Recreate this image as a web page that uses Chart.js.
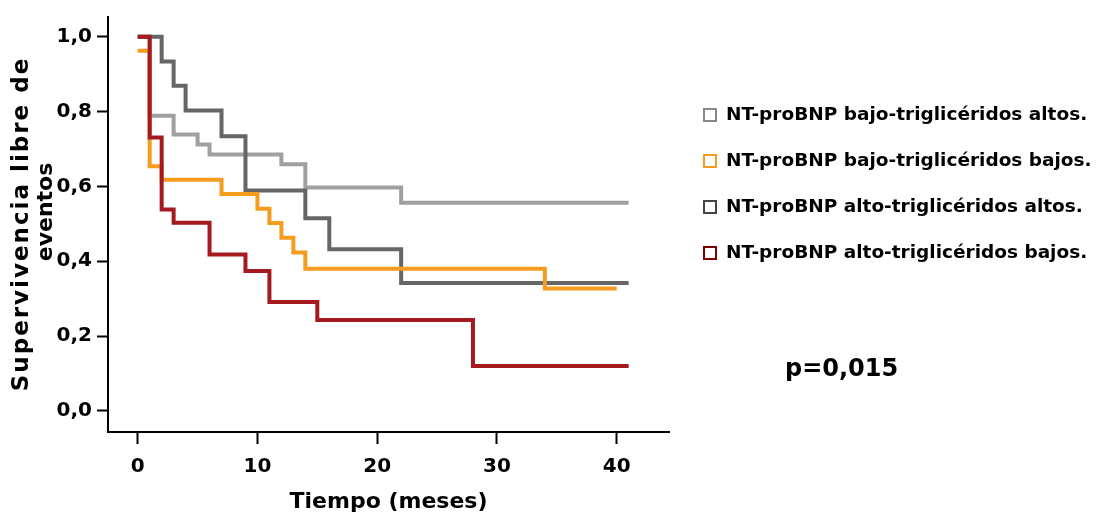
<!DOCTYPE html>
<html>
<head>
<meta charset="utf-8">
<script src="https://cdn.jsdelivr.net/npm/chart.js@4.4.1/dist/chart.umd.min.js"></script>
<style>
  html, body { margin: 0; padding: 0; background: #fff; }
  #wrap { width: 1101px; height: 519px; }
</style>
</head>
<body>
<div id="wrap"><canvas id="km"></canvas></div>
<script>
// Curvas de Kaplan-Meier: tiempos (meses) y supervivencia libre de eventos
const labels = [
  'NT-proBNP bajo-triglicéridos altos.',
  'NT-proBNP bajo-triglicéridos bajos.',
  'NT-proBNP alto-triglicéridos altos.',
  'NT-proBNP alto-triglicéridos bajos.'
];

const tBajoAltos = [0, 1, 3, 5, 6, 12, 14, 22, 41];
const sBajoAltos = [1.0, 0.789, 0.739, 0.712, 0.685, 0.659, 0.597, 0.556, 0.556];

const tBajoBajos = [0, 1, 2, 7, 10, 11, 12, 13, 14, 34, 40];
const sBajoBajos = [0.963, 0.654, 0.618, 0.58, 0.54, 0.502, 0.463, 0.423, 0.38, 0.327, 0.327];

const tAltoAltos = [0, 2, 3, 4, 7, 9, 14, 16, 22, 41];
const sAltoAltos = [1.0, 0.934, 0.869, 0.803, 0.734, 0.589, 0.515, 0.432, 0.342, 0.342];

const tAltoBajos = [0, 1, 2, 3, 6, 9, 11, 15, 28, 41];
const sAltoBajos = [1.0, 0.731, 0.538, 0.503, 0.418, 0.374, 0.291, 0.243, 0.12, 0.12];

const xTicks = [0, 10, 20, 30, 40];
const yTicks = [0, 0.2, 0.4, 0.6, 0.8, 1.0];
const yTickLabels = ['0,0', '0,2', '0,4', '0,6', '0,8', '1,0'];
const yTitle = ['Supervivencia libre de', 'eventos'];
const pValue = 'p=0,015';

const lineColors = ['#a0a0a0', '#f59c1e', '#666666', '#a51a1f'];
const boxColors = ['#888888', '#f59c1e', '#444444', '#800000'];
const FONT = '"DejaVu Sans", Verdana, sans-serif';

function pts(t, s) {
  return t.map((v, i) => ({ x: v, y: s[i] }));
}

const series = [
  pts(tBajoAltos, sBajoAltos),
  pts(tBajoBajos, sBajoBajos),
  pts(tAltoAltos, sAltoAltos),
  pts(tAltoBajos, sAltoBajos)
];
const drawOrder = [3, 1, 2, 0];

// leyenda, valor p y título del eje y (dos líneas giradas)
const extrasPlugin = {
  id: 'kmExtras',
  afterDraw(chart) {
    const ctx = chart.ctx;
    ctx.save();
    ctx.font = 'bold 18.5px ' + FONT;
    ctx.textBaseline = 'middle';
    ctx.textAlign = 'left';
    labels.forEach((lab, i) => {
      const y = 115 + i * 46;
      ctx.lineWidth = 2;
      ctx.strokeStyle = boxColors[i];
      ctx.strokeRect(704, y - 6, 12, 12);
      ctx.fillStyle = '#000';
      ctx.fillText(lab, 726, y);
    });
    ctx.font = 'bold 24px ' + FONT;
    ctx.fillText(pValue, 785, 370);
    ctx.restore();

    ctx.save();
    ctx.fillStyle = '#000';
    ctx.textAlign = 'center';
    ctx.textBaseline = 'alphabetic';
    ctx.translate(28, 224);
    ctx.rotate(-Math.PI / 2);
    ctx.font = 'bold 23px ' + FONT;
    ctx.letterSpacing = '2px';
    ctx.fillText(yTitle[0], 0, 0);
    ctx.restore();

    ctx.save();
    ctx.fillStyle = '#000';
    ctx.textAlign = 'center';
    ctx.textBaseline = 'alphabetic';
    ctx.translate(52, 212);
    ctx.rotate(-Math.PI / 2);
    ctx.font = 'bold 22px ' + FONT;
    ctx.fillText(yTitle[1], 0, 0);
    ctx.restore();
  }
};

new Chart(document.getElementById('km'), {
  type: 'line',
  data: {
    datasets: series.map((d, i) => ({
      label: labels[i],
      data: d,
      stepped: true,
      borderColor: lineColors[i],
      borderWidth: 4,
      pointRadius: 0,
      fill: false,
      order: drawOrder[i]
    }))
  },
  options: {
    responsive: true,
    maintainAspectRatio: false,
    animation: false,
    layout: { padding: { top: 15, right: 432, bottom: 0, left: 0 } },
    plugins: { legend: { display: false }, tooltip: { enabled: false } },
    scales: {
      x: {
        type: 'linear',
        min: -2.48,
        max: 44.37,
        afterFit(s) { s.height = 87; },
        afterBuildTicks(s) { s.ticks = xTicks.map(v => ({ value: v })); },
        grid: { drawOnChartArea: false, drawTicks: true, tickLength: 12, tickWidth: 2, tickColor: '#000' },
        border: { display: true, color: '#000', width: 2 },
        ticks: { color: '#000', padding: 11, font: { family: FONT, size: 20, weight: 'bold' }, maxRotation: 0 },
        title: {
          display: true, text: 'Tiempo (meses)', color: '#000',
          font: { family: FONT, size: 22, weight: 'bold' }, padding: { top: 0, bottom: 4 }
        }
      },
      y: {
        type: 'linear',
        min: -0.0567,
        max: 1.053,
        afterFit(s) { s.width = 108; },
        afterBuildTicks(s) { s.ticks = yTicks.map(v => ({ value: v })); },
        grid: { drawOnChartArea: false, drawTicks: true, tickLength: 11, tickWidth: 2, tickColor: '#000' },
        border: { display: true, color: '#000', width: 2 },
        ticks: {
          color: '#000', padding: 5, font: { family: FONT, size: 20, weight: 'bold' },
          callback: (v, i) => yTickLabels[i]
        },
        title: { display: false }
      }
    }
  },
  plugins: [extrasPlugin]
});
</script>
</body>
</html>
